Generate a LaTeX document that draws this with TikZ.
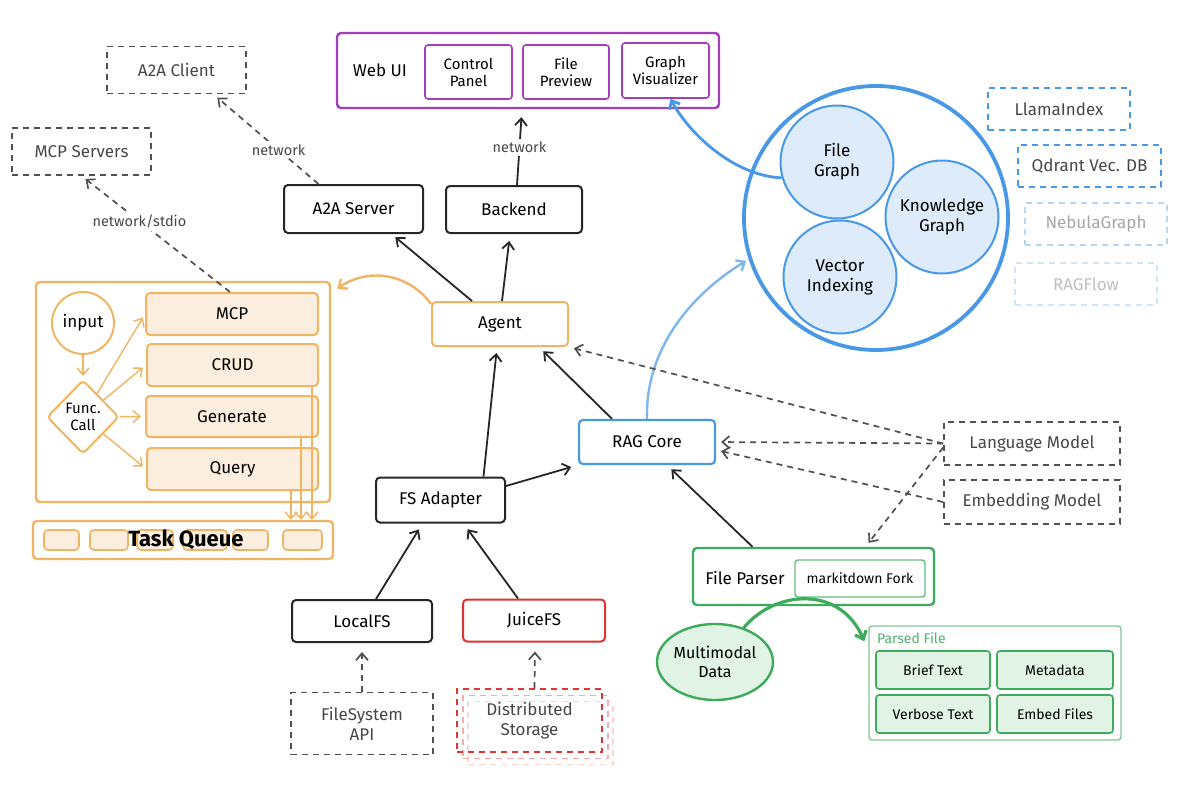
\documentclass[tikz,border=0pt]{standalone}
\usepackage{fontspec}
\setmainfont{Fira Sans}
\usetikzlibrary{arrows.meta,shapes.geometric,positioning}
\definecolor{agentorange}{RGB}{240,180,98}
\definecolor{orangefill}{RGB}{252,238,222}
\definecolor{uipurple}{RGB}{165,62,190}
\definecolor{ragblue}{RGB}{72,152,230}
\definecolor{bluefill}{RGB}{221,235,250}
\definecolor{parsegreen}{RGB}{62,170,92}
\definecolor{greenfill}{RGB}{225,243,229}
\definecolor{juicered}{RGB}{222,52,52}
\definecolor{dashgray}{RGB}{80,80,80}
\begin{document}
\begin{tikzpicture}[x=1pt, y=-1pt,
    every node/.style={font=\fontsize{17}{20}\selectfont, align=center, inner sep=2pt},
    sz/.style 2 args={minimum width=#1pt, minimum height=#2pt},
    plainbox/.style={draw=black!85, line width=2pt, rounded corners=4pt},
    extbox/.style={draw=dashgray, line width=1.7pt, dash pattern=on 6pt off 5pt, text=black!72},
    orangebox/.style={draw=agentorange, line width=2pt, rounded corners=4pt},
    toolbox/.style={orangebox, fill=orangefill},
    uibox/.style={draw=uipurple, line width=1.6pt, rounded corners=3pt, font=\fontsize{15}{17}\selectfont},
    greenbox/.style={draw=parsegreen, line width=1.6pt, rounded corners=3pt, fill=greenfill, font=\fontsize{14}{16}\selectfont},
    bluecirc/.style={circle, draw=ragblue, line width=2pt, fill=bluefill, minimum size=113pt},
    arr/.style={draw=black!85, line width=1.8pt, -{Straight Barb[length=7pt,width=12pt]}},
    dasharr/.style={arr, draw=dashgray, line width=1.7pt, dash pattern=on 6pt off 5pt, shorten >=5pt},
    orangearr/.style={arr, draw=agentorange, line width=1.4pt},
    netlabel/.style={fill=white, text=black!72, font=\fontsize{14.5}{17}\selectfont, inner sep=3pt}
]
    \fill[white] (0,0) rectangle (1200,795);
    \useasboundingbox (0,0) rectangle (1200,795);
    \node[extbox, sz={139}{47}] (a2aclient) at (176.5,70) {A2A Client};
    \node[extbox, sz={139}{47}] (mcpsrv) at (81.5,151.5) {MCP Servers};
    \node[draw=uipurple, line width=2.4pt, rounded corners=4pt, sz={382}{75}] (webui) at (528,70.5) {};
    \node (webuilabel) at (380,70) {Web UI};
    \node[uibox, sz={87}{54}] (cpanel) at (468.5,72) {Control\\Panel};
    \node[uibox, sz={86}{54}] (fpreview) at (566,72) {File\\Preview};
    \node[uibox, sz={87}{55}] (gviz) at (665.5,70.5) {Graph\\Visualizer};
    \node[plainbox, sz={139}{48}] (a2asrv) at (353.5,209) {A2A Server};
    \node[plainbox, sz={136}{47}] (backend) at (514,209.5) {Backend};
    \node[orangebox, sz={136}{44}] (agent) at (500,324) {Agent};
    \node[orangebox, line width=2.4pt, sz={294}{220}] (tools) at (183,392) {};
    \node[circle, orangebox, minimum size=62pt, inner sep=0pt] (input) at (83,323) {input};
    \node[diamond, orangebox, sz={72}{74}, inner sep=0pt, font=\fontsize{15}{17}\selectfont] (fcall) at (83,417) {Func.\\Call};
    \node[toolbox, sz={172}{42}] (mcp) at (232,314) {MCP};
    \node[toolbox, sz={171}{42}] (crud) at (232.5,365) {CRUD};
    \node[toolbox, sz={172}{41}] (generate) at (232,416.5) {Generate};
    \node[toolbox, sz={171}{42}] (query) at (232.5,469) {Query};
    \node[orangebox, line width=2.4pt, sz={300}{38}] (tq) at (183,540) {};
    \foreach \qx/\qw [count=\qi] in {61.5/35, 109/38, 155/36, 205/44, 250.5/35, 302.5/39}
        \node[toolbox, line width=1.6pt, sz={\qw}{20}] (slot\qi) at (\qx,540) {};
    \node[font=\fontsize{22}{25}\selectfont\bfseries] (tqlabel) at (186,540) {Task Queue};
    \node[draw=ragblue, line width=2.2pt, rounded corners=4pt, sz={136}{44}] (ragcore) at (647,442) {RAG Core};
    \node[plainbox, sz={129}{45}] (fsadapter) at (440.5,500) {FS Adapter};
    \node[plainbox, sz={140}{42}] (localfs) at (362,621) {LocalFS};
    \node[plainbox, draw=juicered, sz={142}{42}] (juicefs) at (534,620.5) {JuiceFS};
    \node[extbox, sz={142}{62}] (fsapi) at (362,723.5) {FileSystem\\API};
    \node[extbox, draw=juicered!20, sz={145}{63}] (dstore3) at (540.5,733) {};
    \node[extbox, draw=juicered!40, sz={145}{63}] (dstore2) at (535.5,727) {};
    \node[extbox, draw=juicered, sz={145}{63}] (dstore) at (529.5,720.5) {Distributed\\Storage};
    \node[draw=parsegreen, line width=2.4pt, rounded corners=4pt, sz={241}{57}] (fileparser) at (813.5,576.5) {};
    \node (fplabel) at (745,578) {File Parser};
    \node[draw=parsegreen!80, line width=1.4pt, rounded corners=3pt, sz={130}{37}, font=\fontsize{14}{16}\selectfont] (markitdown) at (860,578.5) {markitdown Fork};
    \node[ellipse, draw=parsegreen, line width=2.4pt, fill=greenfill, sz={116}{76}, inner sep=-4pt, font=\fontsize{16}{19}\selectfont] (multimodal) at (715,662) {Multimodal\\Data};
    \node[draw=parsegreen!65, line width=1.4pt, rounded corners=3pt, sz={252}{114}] (parsed) at (995,683) {};
    \node[anchor=west, text=parsegreen!90, font=\fontsize{14}{16}\selectfont] (parsedlabel) at (875,638) {Parsed File};
    \node[greenbox, sz={114}{38}] (brief) at (933,670) {Brief Text};
    \node[greenbox, sz={116}{38}] (meta) at (1055,670) {Metadata};
    \node[greenbox, sz={114}{38}] (verbose) at (933,714) {Verbose Text};
    \node[greenbox, sz={116}{38}] (embed) at (1055,714) {Embed Files};
    \node[circle, draw=ragblue, line width=3.8pt, minimum size=264pt] (ragstore) at (876,218) {};
    \node[bluecirc] (filegraph) at (837,162) {File\\Graph};
    \node[bluecirc] (kgraph) at (942,217) {Knowledge\\Graph};
    \node[bluecirc] (vindex) at (840,277) {Vector\\Indexing};
    \node[extbox, draw=ragblue, sz={142}{42}] (llama) at (1059,109) {LlamaIndex};
    \node[extbox, draw=ragblue, sz={143}{42}] (qdrant) at (1089.5,166) {Qdrant Vec. DB};
    \node[extbox, draw=ragblue!40, text=black!35, sz={142}{42}] (nebula) at (1096,224) {NebulaGraph};
    \node[extbox, draw=ragblue!25, text=black!25, sz={142}{42}] (ragflow) at (1086,284) {RAGFlow};
    \node[extbox, sz={176}{43}] (langmodel) at (1032,443.5) {Language Model};
    \node[extbox, sz={176}{44}] (embmodel) at (1032,502) {Embedding Model};
    \draw[dasharr] ([xshift=-35pt]a2asrv.north) -- node[netlabel, pos=0.38] (netA) {network} ([xshift=37pt]a2aclient.south);
    \draw[dasharr] ([xshift=-2pt]mcp.north) -- node[netlabel, pos=0.61] (netB) {network/stdio} (mcpsrv.south);
    \draw[arr, shorten >=8pt] ([xshift=3pt]backend.north) -- node[netlabel, pos=0.5] (netC) {network} ([xshift=-6pt]webui.south);
    \draw[arr, shorten >=5pt] ([xshift=-28pt]agent.north) -- ([xshift=38pt]a2asrv.south);
    \draw[arr, shorten >=7pt] ([xshift=2pt]agent.north) -- ([xshift=-4pt]backend.south);
    \draw[arr, draw=agentorange, line width=2.4pt] ([yshift=-3pt]agent.north west) .. controls (410,275) and (370,266) .. ([xshift=6pt,yshift=-8pt]tools.north east);
    \draw[arr, shorten >=6pt] ([xshift=43pt]fsadapter.north) -- ([xshift=-3pt]agent.south);
    \draw[arr, shorten >=7pt] ([yshift=14pt]fsadapter.east) -- (ragcore.south west);
    \draw[arr, shorten >=6pt] ([xshift=-35pt]ragcore.north) -- ([xshift=-30pt]agent.south east);
    \draw[arr, draw=ragblue!70, line width=2.4pt, shorten >=3pt] (ragcore.north) .. controls (645,350) and (690,295) .. (ragstore.198);
    \draw[arr, draw=ragblue, line width=2.8pt] (filegraph.196) .. controls (735,176) and (690,135) .. ([xshift=5pt]gviz.south);
    \draw[dasharr] (langmodel.west) -- (agent.south east);
    \draw[dasharr] (langmodel.west) -- (ragcore.east);
    \draw[dasharr] (embmodel.west) -- ([yshift=-8pt]ragcore.east);
    \draw[dasharr] ([yshift=-4pt]langmodel.west) -- ([xshift=52pt]fileparser.north);
    \draw[arr, shorten >=6pt] ([xshift=-61pt]fileparser.north) -- ([xshift=20pt]ragcore.south);
    \draw[arr, shorten >=7pt] ([xshift=14pt]localfs.north) -- ([xshift=-18pt]fsadapter.south);
    \draw[arr, shorten >=7pt] ([xshift=-16pt]juicefs.north) -- ([xshift=23pt]fsadapter.south);
    \draw[dasharr, shorten >=9pt] (fsapi.north) -- (localfs.south);
    \draw[dasharr, shorten >=9pt] ([xshift=5pt]dstore.north) -- ([xshift=1pt]juicefs.south);
    \draw[orangearr, shorten >=3pt] (input) -- (fcall);
    \foreach \tool in {mcp, crud, generate, query}
        \draw[orangearr, shorten >=4pt] (fcall) -- (\tool.west);
    \coordinate (qcrud) at ([xshift=-7pt]crud.south east);
    \coordinate (qgen) at ([xshift=-18pt]generate.south east);
    \coordinate (qquery) at ([xshift=-28pt]query.south east);
    \draw[orangearr] (qcrud) -- (qcrud |- tq.north);
    \draw[orangearr] (qgen) -- (qgen |- tq.north);
    \draw[orangearr] (qquery) -- (qquery |- tq.north);
    \draw[arr, draw=parsegreen, line width=3.2pt] (multimodal.50) .. controls (775,590) and (840,585) .. ([xshift=-4pt,yshift=-16pt]parsed.north west);
\end{tikzpicture}
\end{document}
